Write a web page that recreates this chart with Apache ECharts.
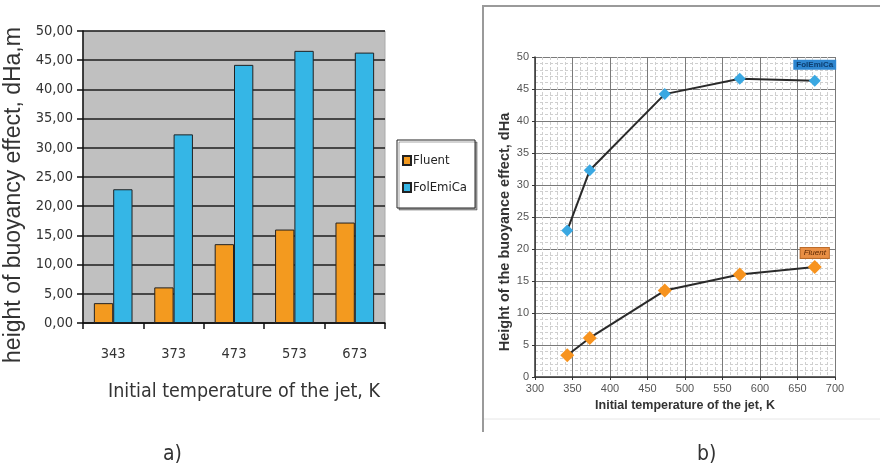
<!DOCTYPE html>
<html>
<head>
<meta charset="utf-8">
<script src="https://cdn.jsdelivr.net/npm/echarts@6/dist/echarts.min.js"></script>
<style>
  html, body { margin: 0; padding: 0; background: #fff; }
  #chart { width: 880px; height: 471px; }
</style>
</head>
<body>
<div id="chart"></div>
<script>
// Initial jet temperatures (K) and the buoyancy-effect height dHa (m) from both models
const categories = ['343', '373', '473', '573', '673'];
const temperatures = [343, 373, 473, 573, 673];
const fluent = [3.4, 6.1, 13.5, 16.0, 17.2];
const folEmiCa = [22.9, 32.3, 44.2, 46.6, 46.3];
const seriesNames = ['Fluent', 'FolEmiCa'];
const panelCaptions = ['a)', 'b)'];

const ORANGE = '#f39a1f';
const BLUE = '#35b6e6';
const NARROW = "'DejaVu Sans Condensed', 'Liberation Sans', sans-serif";
const SANS = "'Liberation Sans', Arial, sans-serif";

const commaFmt = v => v.toFixed(2).replace('.', ',');

// Points for the scatter-line panel, with the series name tagged on the last point
function linePoints(values, labelStyle) {
  return temperatures.map((t, i) => {
    const item = { value: [t, values[i]] };
    if (i === values.length - 1) item.label = labelStyle;
    return item;
  });
}

const chart = echarts.init(document.getElementById('chart'), null, { renderer: 'canvas' });

chart.setOption({
  animation: false,
  backgroundColor: '#ffffff',
  grid: [
    { left: 83, top: 31, width: 302, height: 292, show: true, backgroundColor: '#c0c0c0', borderColor: '#aaaaaa', borderWidth: 1 },
    { left: 535, top: 57, width: 300, height: 320, show: false }
  ],
  legend: {
    data: seriesNames,
    orient: 'vertical',
    left: 397,
    top: 140,
    padding: [14, 8, 14, 5],
    itemGap: 14,
    itemWidth: 8,
    itemHeight: 9,
    icon: 'rect',
    borderColor: '#222',
    borderWidth: 1,
    shadowColor: 'rgba(0,0,0,0.35)',
    shadowOffsetX: 2,
    shadowOffsetY: 2,
    shadowBlur: 0,
    backgroundColor: '#fff',
    textStyle: { fontFamily: NARROW, fontSize: 13, color: '#222', padding: [0, 0, 0, -3] }
  },
  xAxis: [
    {
      gridIndex: 0,
      type: 'category',
      data: categories,
      boundaryGap: true,
      axisLine: { lineStyle: { color: '#111', width: 1.5 } },
      axisTick: { show: true, length: 6, lineStyle: { color: '#111', width: 1.5 } },
      axisLabel: { margin: 24, fontFamily: NARROW, fontSize: 14.5, color: '#333' },
      name: 'Initial temperature of the jet, K',
      nameLocation: 'middle',
      nameGap: 59,
      nameTextStyle: { fontFamily: NARROW, fontSize: 19.5, color: '#333', padding: [0, 0, 0, 20] }
    },
    {
      gridIndex: 1,
      type: 'value',
      min: 300,
      max: 700,
      interval: 50,
      axisLine: { show: true, onZero: false, lineStyle: { color: '#333', width: 1.5 } },
      axisTick: { show: true, length: 3, lineStyle: { color: '#333' } },
      axisLabel: { margin: 6, fontFamily: SANS, fontSize: 11, color: '#555' },
      splitLine: { show: true, lineStyle: { color: '#7a7a7a', width: 1 } },
      minorTick: { show: false, splitNumber: 5 },
      minorSplitLine: { show: true, lineStyle: { color: '#cfcfcf', width: 1, type: [3, 2] } },
      name: 'Initial temperature of the jet, K',
      nameLocation: 'middle',
      nameGap: 21,
      nameTextStyle: { fontFamily: SANS, fontWeight: 'bold', fontSize: 12.5, color: '#333' }
    }
  ],
  yAxis: [
    {
      gridIndex: 0,
      type: 'value',
      min: 0,
      max: 50,
      interval: 5,
      axisLine: { show: true, lineStyle: { color: '#111', width: 1.5 } },
      axisTick: { show: true, length: 6, lineStyle: { color: '#111', width: 1.5 } },
      axisLabel: { margin: 10, fontFamily: NARROW, fontSize: 14.5, color: '#333', formatter: commaFmt },
      splitLine: { show: true, lineStyle: { color: '#1e1e1e', width: 1.5 } },
      name: 'height of buoyancy effect, dHa,m',
      nameLocation: 'middle',
      nameGap: 58,
      nameTextStyle: { fontFamily: SANS, fontSize: 23, color: '#333', padding: [0, 36, 0, 0] }
    },
    {
      gridIndex: 1,
      type: 'value',
      min: 0,
      max: 50,
      interval: 5,
      axisLine: { show: true, lineStyle: { color: '#333', width: 1.5 } },
      axisTick: { show: true, length: 3, lineStyle: { color: '#333' } },
      axisLabel: { margin: 6, fontFamily: SANS, fontSize: 11, color: '#555' },
      splitLine: { show: true, lineStyle: { color: '#7a7a7a', width: 1 } },
      minorTick: { show: false, splitNumber: 5 },
      minorSplitLine: { show: true, lineStyle: { color: '#cfcfcf', width: 1, type: [3, 2] } },
      name: 'Height of the buoyance effect, dHa',
      nameLocation: 'middle',
      nameGap: 22,
      nameTextStyle: { fontFamily: SANS, fontWeight: 'bold', fontSize: 14.5, color: '#333', padding: [0, 30, 0, 0] }
    }
  ],
  series: [
    {
      name: seriesNames[0],
      type: 'bar',
      xAxisIndex: 0,
      yAxisIndex: 0,
      data: fluent,
      barGap: '0%',
      barCategoryGap: '36%',
      itemStyle: { color: ORANGE, borderColor: '#222', borderWidth: 1 }
    },
    {
      name: seriesNames[1],
      type: 'bar',
      xAxisIndex: 0,
      yAxisIndex: 0,
      data: folEmiCa,
      barGap: '0%',
      barCategoryGap: '36%',
      itemStyle: { color: BLUE, borderColor: '#222', borderWidth: 1 }
    },
    {
      name: seriesNames[0],
      type: 'line',
      xAxisIndex: 1,
      yAxisIndex: 1,
      symbol: 'diamond',
      symbolSize: 14,
      itemStyle: { color: '#f7931e' },
      lineStyle: { color: '#2a2a2a', width: 2 },
      data: linePoints(fluent, {
        show: true, position: 'top', distance: 2, formatter: '{a}',
        fontFamily: SANS, fontSize: 8, fontStyle: 'italic', color: '#5a2600',
        backgroundColor: '#e98f45', borderColor: '#b86a2a', borderWidth: 1, padding: [1, 3]
      })
    },
    {
      name: seriesNames[1],
      type: 'line',
      xAxisIndex: 1,
      yAxisIndex: 1,
      symbol: 'diamond',
      symbolSize: 12,
      itemStyle: { color: '#3aa8e2' },
      lineStyle: { color: '#2a2a2a', width: 2 },
      data: linePoints(folEmiCa, {
        show: true, position: 'top', distance: 5, formatter: '{a}',
        fontFamily: SANS, fontSize: 8, fontWeight: 'bold', color: '#0c3d6e',
        backgroundColor: '#2e86d0', padding: [1, 3]
      })
    }
  ],
  graphic: [
    // frame around panel b
    { type: 'polyline', shape: { points: [[483, 432], [483, 6], [880, 6]] }, style: { stroke: '#9a9a9a', lineWidth: 2, fill: null } },
    { type: 'line', shape: { x1: 484, y1: 419, x2: 880, y2: 419 }, style: { stroke: '#e6e6e6', lineWidth: 1 } },
    { type: 'text', left: 163, top: 444, style: { text: panelCaptions[0], font: "21px " + NARROW, fill: '#333' } },
    { type: 'text', left: 697, top: 444, style: { text: panelCaptions[1], font: "21px " + NARROW, fill: '#333' } }
  ]
});
</script>
</body>
</html>
